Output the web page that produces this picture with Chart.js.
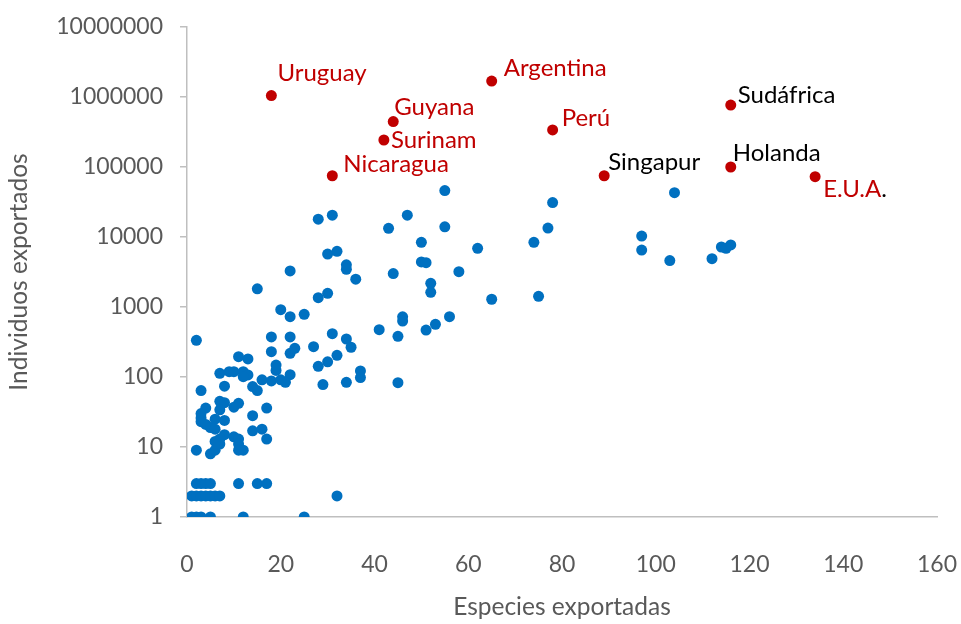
<!DOCTYPE html>
<html>
<head>
<meta charset="utf-8">
<style>
  html, body { margin: 0; padding: 0; background: #fff; }
  #wrap { width: 961px; height: 624px; }
</style>
</head>
<body>
<script src="https://cdn.jsdelivr.net/npm/chart.js"></script>
<div id="wrap">
    <canvas id="myChart" width="961" height="624"></canvas>
</div>

<script>
// other countries (blue points): species exported / individuals exported
const otherSpecies = [
  55, 104, 78, 28, 31, 47, 43, 55, 77, 97,
  50, 74, 62, 32, 30, 97, 114, 115, 116, 112,
  103, 50, 51, 34, 34, 36, 22, 44, 58, 52,
  52, 15, 28, 30, 65, 75, 20, 22, 25, 41,
  46, 46, 56, 45, 51, 53, 18, 22, 2, 18,
  22, 23, 27, 31, 34, 35, 32, 30, 28, 19,
  19, 22, 37, 37, 29, 34, 45, 11, 13, 7,
  9, 10, 12, 13, 12, 16, 18, 20, 21, 3,
  8, 14, 15, 7, 8, 11, 10, 7, 4, 3,
  3, 3, 4, 5, 6, 8, 6, 14, 17, 14,
  16, 8, 10, 11, 17, 2, 5, 6, 7, 7,
  6, 11, 12, 11,
  2, 3, 4, 5, 11, 15, 17,
  1, 2, 3, 4, 5, 6, 7, 32,
  1, 2, 3, 5, 12, 25
];
const otherIndividuals = [
  46000, 43000, 31000, 18000, 20500, 20500, 13300, 14000, 13400, 10300,
  8400, 8400, 6900, 6250, 5700, 6500, 7200, 6900, 7700, 4900,
  4600, 4400, 4300, 4000, 3450, 2500, 3270, 3000, 3200, 2180,
  1620, 1820, 1360, 1570, 1290, 1420, 915, 727, 787, 474,
  725, 630, 728, 381, 469, 566, 373, 373, 334, 230,
  218, 257, 271, 416, 349, 266, 204, 165, 142, 148,
  124, 108, 122, 98, 78, 84, 83, 195, 181, 113,
  119, 119, 119, 107, 101, 91, 88, 91, 84, 64,
  74, 73, 64, 45, 43, 42, 37, 34, 36, 30,
  26, 23, 21, 19, 25, 24, 18, 28, 36, 17,
  18, 15, 14, 13, 13, 9, 8, 9, 11, 13,
  12, 11, 9, 9,
  3, 3, 3, 3, 3, 3, 3,
  2, 2, 2, 2, 2, 2, 2, 2,
  1, 1, 1, 1, 1, 1
];

// highlighted countries (red points)
const countries = ['Uruguay', 'Guyana', 'Surinam', 'Nicaragua', 'Argentina', 'Perú', 'Singapur', 'Sudáfrica', 'Holanda', 'E.U.A.'];
const countrySpecies = [18, 44, 42, 31, 65, 78, 89, 116, 116, 134];
const countryIndividuals = [1050000, 445000, 243000, 75000, 1690000, 338000, 75000, 768000, 100000, 72600];

// label placement next to each red point (px)
const labelOffsets = [[6, -22], [1, -14], [7, 0], [11, -11], [12, -13], [9, -12], [4, -13], [7, -10], [2, -14], [8, 13]];
const labelColors = ['#C00000', '#C00000', '#C00000', '#C00000', '#C00000', '#C00000', '#000000', '#000000', '#000000', '#C00000'];

const yTicks = [1, 10, 100, 1000, 10000, 100000, 1000000, 10000000];

Chart.defaults.font.family = 'Lato';
Chart.defaults.font.size = 23;
Chart.defaults.color = '#595959';

const pointLabels = {
  id: 'pointLabels',
  afterDatasetsDraw(chart) {
    const ctx = chart.ctx;
    const meta = chart.getDatasetMeta(1);
    ctx.save();
    ctx.font = '24px Lato';
    ctx.textBaseline = 'middle';
    ctx.textAlign = 'left';
    meta.data.forEach(function(el, i) {
      const x = el.x + labelOffsets[i][0];
      const y = el.y + labelOffsets[i][1];
      let txt = countries[i];
      if (txt === 'E.U.A.') {
        txt = 'E.U.A';
        ctx.fillStyle = labelColors[i];
        ctx.fillText(txt, x, y);
        ctx.fillStyle = '#000000';
        ctx.fillText('.', x + ctx.measureText(txt).width, y);
      } else {
        ctx.fillStyle = labelColors[i];
        ctx.fillText(txt, x, y);
      }
    });
    ctx.restore();
  }
};

const data = {
  datasets: [{
    label: 'Otros',
    data: otherSpecies.map((x, i) => ({x: x, y: otherIndividuals[i]})),
    backgroundColor: '#0070C0',
    borderWidth: 0,
    pointRadius: 5.5,
    pointHoverRadius: 5.5
  }, {
    label: 'Destacados',
    data: countrySpecies.map((x, i) => ({x: x, y: countryIndividuals[i]})),
    backgroundColor: '#C00000',
    borderWidth: 0,
    pointRadius: 5.5,
    pointHoverRadius: 5.5
  }]
};

const config = {
  type: 'scatter',
  data: data,
  plugins: [pointLabels],
  options: {
    responsive: false,
    animation: false,
    layout: { padding: { left: 0, top: 27, right: 24, bottom: 0 } },
    plugins: {
      legend: { display: false },
      tooltip: { enabled: false }
    },
    scales: {
      x: {
        type: 'linear',
        min: 0,
        max: 160,
        ticks: { stepSize: 20, padding: 26, maxRotation: 0 },
        grid: { display: false },
        border: { display: true, color: '#BFBFBF', width: 1.5 },
        title: { display: true, text: 'Especies exportadas', font: { size: 24.5 }, padding: { top: 0, bottom: 2 } },
        afterFit(scale) {
          scale.height = 107;
          scale.paddingLeft = 0;
          scale.paddingRight = 0;
        }
      },
      y: {
        type: 'logarithmic',
        min: 1,
        max: 10000000,
        afterBuildTicks(scale) { scale.ticks = yTicks.map(v => ({value: v})); },
        ticks: {
          padding: 17,
          callback: function(v) { return String(v); }
        },
        grid: { drawOnChartArea: false, drawTicks: true, tickLength: 7, color: '#BFBFBF', lineWidth: 1.5 },
        border: { display: true, color: '#BFBFBF', width: 1.5 },
        title: { display: true, text: 'Individuos exportados', font: { size: 24.5 }, padding: { top: 4, bottom: 0 } },
        afterFit(scale) {
          scale.width = 187;
          scale.paddingTop = 0;
          scale.paddingBottom = 0;
        }
      }
    }
  }
};

const myChart = new Chart(document.getElementById('myChart'), config);
</script>

</body>
</html>
